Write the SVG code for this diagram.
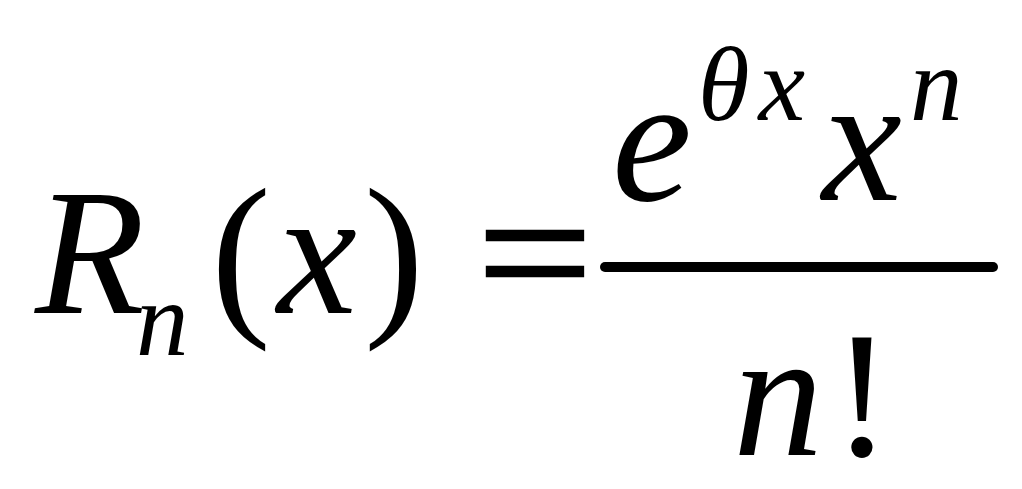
<svg xmlns="http://www.w3.org/2000/svg" width="1022" height="489" viewBox="0 0 1022 489">
<style>
.m{font-family:"Liberation Serif","Times New Roman",serif;fill:#000}
.i{font-style:italic}
.b{font-size:180px}
.s{font-size:105px}
</style>
<rect width="1022" height="489" fill="#fff"/>
<g id="lhs">
<text class="m i b" x="35" y="313">R</text>
<text class="m i s" x="136" y="355">n</text>
<text class="m b" x="211" y="313">(</text>
<text class="m i b" x="277" y="313">x</text>
<text class="m b" x="364" y="313">)</text>
</g>
<g id="eq">
<text class="m b" transform="translate(477,313) scale(1.14,1)" x="0" y="0" stroke="#000" stroke-width="2.5">=</text>
</g>
<g id="frac">
<line x1="605" y1="267" x2="993" y2="267" stroke="#000" stroke-width="10" stroke-linecap="round"/>
<text class="m i b" x="612" y="200">e</text>
<text class="m i s" x="698" y="120" textLength="107">θx</text>
<text class="m i b" x="822" y="200">x</text>
<text class="m i s" x="910" y="120">n</text>
<text class="m i b" x="733" y="455">n</text>
<text class="m b" x="832" y="455">!</text>
</g>
</svg>
